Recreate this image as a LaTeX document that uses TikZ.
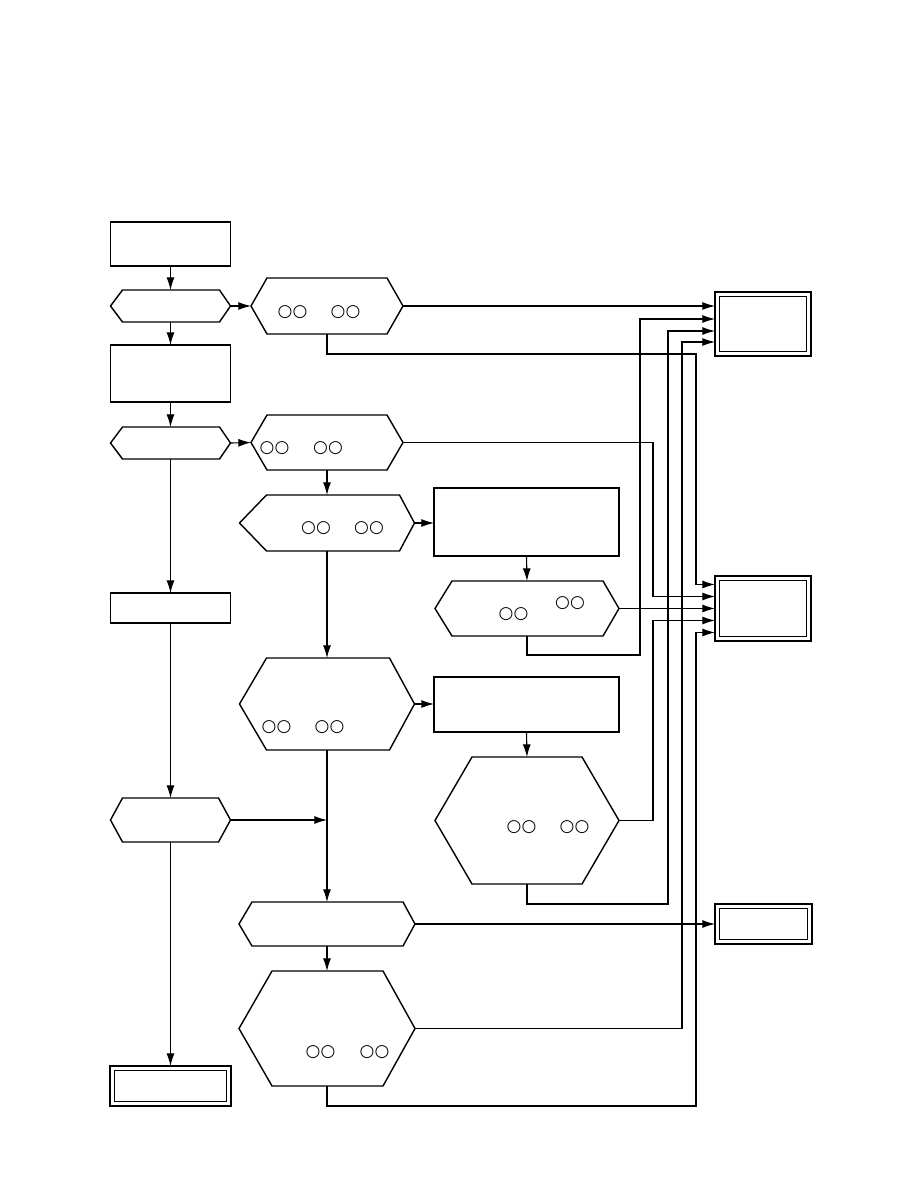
\documentclass[tikz,border=0pt]{standalone}
\usepackage{fontspec}
\newfontfamily\cerclefont{DejaVu Sans}
\usetikzlibrary{arrows.meta, calc}

% contour d'un hexagone pose sur un noeud (pente gauche, pente droite)
\newcommand{\hexa}[3]{%
  \draw[trait] (#1.west) -- ([xshift=#2]#1.north west) -- ([xshift=-#3]#1.north east)
    -- (#1.east) -- ([xshift=-#3]#1.south east) -- ([xshift=#2]#1.south west) -- cycle;}

\begin{document}
\begin{tikzpicture}[x=0.3mm, y=-0.3mm,
    trait/.style={line width=1.2pt, line join=miter},
    boite/.style={draw, line width=1.2pt, inner sep=0pt, outer sep=0pt},
    hexn/.style={inner sep=0pt, outer sep=0pt},
    fin/.style={draw, line width=1.7pt, inner sep=0pt, outer sep=0pt,
      path picture={\draw[line width=0.9pt]
        ([shift={(1.3mm,-1.3mm)}]path picture bounding box.north west) rectangle
        ([shift={(-1.3mm,1.3mm)}]path picture bounding box.south east);}},
    fleche/.style={line width=0.95pt, -{Latex[length=3.8mm, width=2.4mm]}},
    cercles/.style={font=\cerclefont\fontsize{14.5}{14.5}\selectfont, inner sep=0pt}]
    \useasboundingbox (0,0) rectangle (918,1188);

    % Colonne de gauche
    \node[boite, minimum width=36mm, minimum height=13.2mm] (b1) at (170.5,244) {};
    \node[hexn, minimum width=36mm, minimum height=9.6mm] (d1) at (170.5,306) {};
    \hexa{d1}{3.6mm}{3.3mm}
    \node[boite, minimum width=36mm, minimum height=17.1mm] (b2) at (170.5,373.5) {};
    \node[hexn, minimum width=36mm, minimum height=9.6mm] (d2) at (170.5,443) {};
    \hexa{d2}{3.6mm}{3.3mm}
    \node[boite, minimum width=36mm, minimum height=9mm] (b3) at (170.5,608) {};
    \node[hexn, minimum width=36mm, minimum height=13.2mm] (d3) at (170.5,820) {};
    \hexa{d3}{3.6mm}{3.6mm}
    \node[fin, minimum width=36.3mm, minimum height=12mm] (r4) at (170.5,1086) {};

    % Colonne du milieu
    \node[hexn, minimum width=45.6mm, minimum height=16.8mm] (h1) at (327,306) {};
    \hexa{h1}{4.8mm}{4.8mm}
    \node[hexn, minimum width=45.6mm, minimum height=16.5mm] (h2) at (327,442.5) {};
    \hexa{h2}{4.8mm}{4.8mm}
    \node[hexn, minimum width=52.5mm, minimum height=16.8mm] (h3) at (327,523) {};
    \hexa{h3}{8.1mm}{4.5mm}
    \node[hexn, minimum width=52.5mm, minimum height=27.6mm] (h4) at (327,704) {};
    \hexa{h4}{8.1mm}{7.5mm}
    \node[hexn, minimum width=52.8mm, minimum height=13.2mm] (h7) at (327,924) {};
    \hexa{h7}{3.9mm}{3.6mm}
    \node[hexn, minimum width=52.8mm, minimum height=34.5mm] (h8) at (327,1028.5) {};
    \hexa{h8}{9.9mm}{9.6mm}

    % Colonne de droite
    \node[boite, minimum width=55.5mm, minimum height=20.4mm] (b4) at (526.5,522) {};
    \node[hexn, minimum width=55.2mm, minimum height=16.5mm] (h5) at (527,608.5) {};
    \hexa{h5}{5.1mm}{4.8mm}
    \node[boite, minimum width=55.5mm, minimum height=16.5mm] (b5) at (526.5,704.5) {};
    \node[hexn, minimum width=55.2mm, minimum height=38.1mm] (h6) at (527,820.5) {};
    \hexa{h6}{11.1mm}{11.1mm}

    % Resultats
    \node[fin, minimum width=28.8mm, minimum height=19.2mm] (r1) at (763,324) {};
    \node[fin, minimum width=28.8mm, minimum height=19.5mm] (r2) at (763,608.5) {};
    \node[fin, minimum width=29.1mm, minimum height=12mm] (r3) at (763.5,924) {};

    % Les cercles
    \node[cercles] (c1a) at (292.5,312) {○○};
    \node[cercles] (c1b) at (345.5,312) {○○};
    \node[cercles] (c2a) at (274.5,448) {○○};
    \node[cercles] (c2b) at (328,448) {○○};
    \node[cercles] (c3a) at (316,528) {○○};
    \node[cercles] (c3b) at (369,528) {○○};
    \node[cercles] (c4a) at (276.5,727) {○○};
    \node[cercles] (c4b) at (329.5,727) {○○};
    \node[cercles] (c5a) at (513.5,614) {○○};
    \node[cercles] (c5b) at (570,603) {○○};
    \node[cercles] (c6a) at (521.5,827) {○○};
    \node[cercles] (c6b) at (574.5,827) {○○};
    \node[cercles] (c8a) at (320.5,1052) {○○};
    \node[cercles] (c8b) at (374.5,1052) {○○};

    % Points d'entree et couloirs
    \coordinate (r1b) at ($(r1.west)+(0,-5)$);
    \coordinate (r1c) at ($(r1.west)+(0,7)$);
    \coordinate (r1d) at ($(r1.west)+(0,18)$);
    \coordinate (r2a) at ($(r2.west)+(0,-24)$);
    \coordinate (r2b) at ($(r2.west)+(0,-12)$);
    \coordinate (r2d) at ($(r2.west)+(0,12)$);
    \coordinate (r2e) at ($(r2.west)+(0,24)$);
    \coordinate (la) at (640,0);
    \coordinate (lb) at (653,0);
    \coordinate (lc) at (668,0);
    \coordinate (ld) at (682,0);
    \coordinate (le) at (696,0);
    \coordinate (jonction) at (h4.south |- d3.east);

    % Fleches verticales
    \draw[fleche] (b1.south) -- (d1.north);
    \draw[fleche] (d1.south) -- (b2.north);
    \draw[fleche] (b2.south) -- (d2.north);
    \draw[fleche] (d2.south) -- (b3.north);
    \draw[fleche] (b3.south) -- (d3.north);
    \draw[fleche] (d3.south) -- (r4.north);
    \draw[fleche] (h2.south) -- (h3.north);
    \draw[fleche] (h3.south) -- (h4.north);
    \draw[fleche] (h4.south) -- (h7.north);
    \draw[fleche] (h7.south) -- (h8.north);
    \draw[fleche] (b4.south) -- (h5.north);
    \draw[fleche] (b5.south) -- (h6.north);

    % Fleches horizontales
    \draw[fleche] (d1.east) -- (h1.west);
    \draw[fleche] (d2.east) -- (h2.west);
    \draw[fleche] (h3.east) -- (h3.east -| b4.west);
    \draw[fleche] (h4.east) -- (h4.east -| b5.west);
    \draw[fleche] (d3.east) -- (jonction);
    \draw[fleche] (h1.east) -- (h1.east -| r1.west);
    \draw[fleche] (h5.east) -- (h5.east -| r2.west);
    \draw[fleche] (h7.east) -- (r3.west);

    % Retours vers les resultats
    \draw[fleche] (h1.south) -- ++(0,20) -| (le |- r2a) -- (r2a);
    \draw[fleche] (h2.east) -| (lb |- r2b) -- (r2b);
    \draw[fleche] (h5.south) -- ++(0,19) -| (la |- r1b) -- (r1b);
    \draw[fleche] (h6.east) -| (lb |- r2d) -- (r2d);
    \draw[fleche] (h6.south) -- ++(0,20) -| (lc |- r1c) -- (r1c);
    \draw[fleche] (h8.east) -| (ld |- r1d) -- (r1d);
    \draw[fleche] (h8.south) -- ++(0,20) -| (le |- r2e) -- (r2e);
\end{tikzpicture}
\end{document}
